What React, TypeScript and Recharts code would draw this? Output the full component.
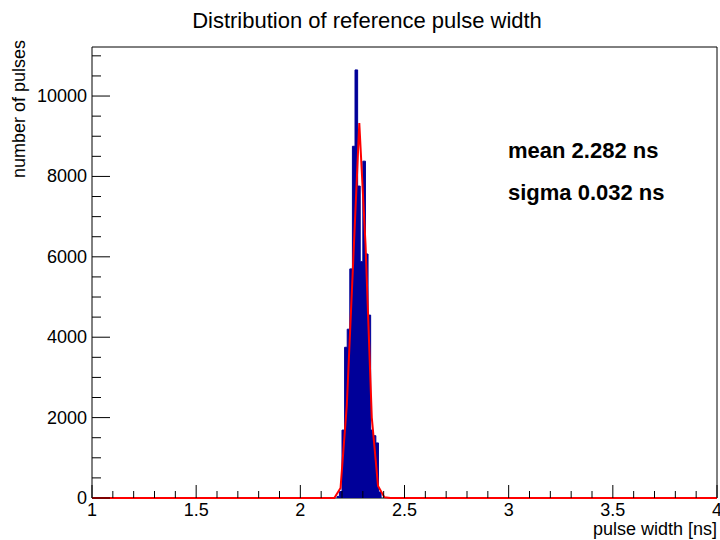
import React from "react";
import { ComposedChart, Area, Line, XAxis, YAxis, ReferenceArea } from "recharts";

// histogram bins (left edge, ns) and counts
const binEdges = [2.175, 2.1875, 2.2, 2.2125, 2.225, 2.2375, 2.25, 2.2625, 2.275, 2.2875,
  2.3, 2.3125, 2.325, 2.3375, 2.35, 2.3625, 2.375, 2.3875];
const binCounts = [40, 160, 1690, 3750, 4200, 5700, 8750, 10650, 7760, 5880,
  8380, 6070, 4550, 1690, 1550, 1370, 150, 0];

// gaussian fit curve as drawn (ns, counts)
const fitX = [1, 2.133, 2.163, 2.193, 2.223, 2.253, 2.283, 2.313, 2.343, 2.373, 2.403, 2.433, 4];
const fitY = [0, 0, 0, 250, 2300, 5800, 9330, 6300, 2000, 300, 20, 0, 0];

const xMajor = [1, 1.5, 2, 2.5, 3, 3.5, 4];
const yMajor = [0, 2000, 4000, 6000, 8000, 10000];
const xTicks = Array.from({ length: 31 }, (_, i) => Math.round((1 + i * 0.1) * 10) / 10);
const yTicks = Array.from({ length: 23 }, (_, i) => i * 500);

const histData = binEdges.map((x, i) => ({ x, count: binCounts[i] }));
const fitData = fitX.map((x, i) => ({ x, fit: fitY[i] }));

const FONT = "'Liberation Sans', Arial, sans-serif";

const XTick = (p: any) => {
  const v = p.payload.value;
  const major = xMajor.some(m => Math.abs(m - v) < 1e-6);
  return (
    <g>
      <line x1={p.x} x2={p.x} y1={p.y} y2={p.y - (major ? 13 : 7)} stroke="#000" />
      {major && (
        <text x={p.x} y={p.y + 18} textAnchor="middle" fontSize={18} fontFamily={FONT} fill="#000">
          {String(v)}
        </text>
      )}
    </g>
  );
};

const YTick = (p: any) => {
  const v = p.payload.value;
  const major = yMajor.includes(v);
  return (
    <g>
      <line x1={p.x} x2={p.x + (major ? 18 : 9)} y1={p.y} y2={p.y} stroke="#000" />
      {major && (
        <text x={p.x - 5} y={p.y + 6} textAnchor="end" fontSize={18} fontFamily={FONT} fill="#000">
          {String(v)}
        </text>
      )}
    </g>
  );
};

export default function App() {
  return (
    <div style={{ position: "relative", width: 720, height: 540, background: "#fff" }}>
      <style>{"body{margin:0}"}</style>
      <ComposedChart width={720} height={540} margin={{ top: 47, right: 3, bottom: 0, left: 0 }}>
        <XAxis dataKey="x" type="number" domain={[1, 4]} ticks={xTicks}
          interval={0} height={42} tickSize={0} tickMargin={0} tickLine={false}
          axisLine={false} tick={(p: any) => <XTick {...p} />} />
        <YAxis type="number" domain={[0, 11220]} ticks={yTicks}
          interval={0} width={92} tickSize={0} tickMargin={0} tickLine={false}
          axisLine={false} tick={(p: any) => <YTick {...p} />} />
        <ReferenceArea x1={1} x2={4} y1={0} y2={11220} fill="none" stroke="#000"
          ifOverflow="visible" zIndex={50} />
        <Area data={histData} dataKey="count" type="stepAfter" fill="#000099" fillOpacity={1}
          stroke="#000099" strokeWidth={1} dot={false} activeDot={false} isAnimationActive={false} />
        <Line data={fitData} dataKey="fit" type="linear" stroke="#ff0000" strokeWidth={2}
          dot={false} activeDot={false} isAnimationActive={false} zIndex={1000} />
      </ComposedChart>
      <svg width={720} height={540} style={{ position: "absolute", left: 0, top: 0, pointerEvents: "none" }}
        fontFamily={FONT}>
        <text x={367} y={28} textAnchor="middle" fontSize={22}>Distribution of reference pulse width</text>
        <text x={717} y={535} textAnchor="end" fontSize={18}>pulse width [ns]</text>
        <text transform="translate(25,40) rotate(-90)" textAnchor="end" fontSize={18}>number of pulses</text>
        <text x={508} y={158} fontSize={22} fontWeight="bold">mean 2.282 ns</text>
        <text x={508} y={200} fontSize={22} fontWeight="bold">sigma 0.032 ns</text>
      </svg>
    </div>
  );
}
